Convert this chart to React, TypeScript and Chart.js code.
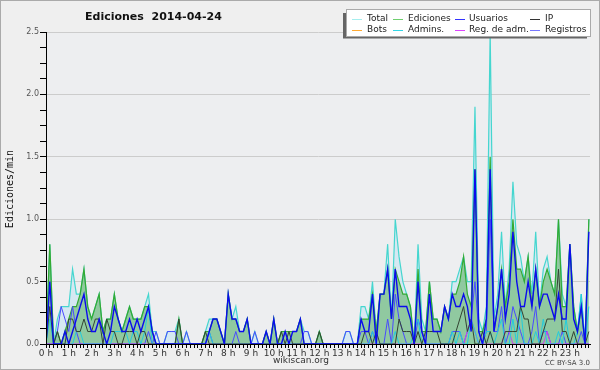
import React, { useEffect, useRef } from 'react';
import { Chart, registerables } from 'chart.js';

Chart.register(...registerables);

// 10-minute slots of the day (0 .. 143)
const slots: number[] = Array.from({ length: 144 }, (_, i) => i);
const hourLabels = ['0 h','1 h','2 h','3 h','4 h','5 h','6 h','7 h','8 h','9 h','10 h','11 h','12 h','13 h','14 h','15 h','16 h','17 h','18 h','19 h','20 h','21 h','22 h','23 h'];
const yTicks = [0,0.125,0.25,0.375,0.5,0.625,0.75,0.875,1,1.125,1.25,1.375,1.5,1.625,1.75,1.875,2,2.125,2.25,2.375,2.5];
const yMajorLabels: Record<string, string> = { '0': '0.0', '0.5': '0.5', '1': '1.0', '1.5': '1.5', '2': '2.0', '2.5': '2.5' };

const total = [
  0, 0.8, 0, 0.2, 0.3, 0.3, 0.3, 0.6, 0.4, 0.4, 0.6, 0.3,
  0.2, 0.3, 0.4, 0.1, 0.2, 0.2, 0.4, 0.2, 0.1, 0.2, 0.3, 0.2,
  0.2, 0.2, 0.3, 0.4, 0.1, 0.1, 0, 0, 0.1, 0.1, 0.1, 0.2,
  0, 0.1, 0, 0, 0, 0, 0.1, 0.2, 0.2, 0.2, 0.1, 0,
  0.4, 0.2, 0.3, 0.1, 0.1, 0.2, 0, 0.1, 0, 0, 0.1, 0,
  0.2, 0, 0.1, 0.1, 0.1, 0.1, 0.1, 0.2, 0.1, 0.1, 0, 0,
  0.1, 0, 0, 0, 0, 0, 0, 0.1, 0.1, 0, 0, 0.3,
  0.3, 0.2, 0.5, 0.1, 0.4, 0.4, 0.8, 0.2, 1.0, 0.7, 0.5, 0.4,
  0.3, 0, 0.8, 0.2, 0.1, 0.5, 0.2, 0.2, 0.1, 0.3, 0.2, 0.5,
  0.5, 0.6, 0.7, 0.5, 0.5, 1.9, 0.2, 0.1, 0.3, 2.5, 0.2, 0.4,
  0.9, 0.3, 0.6, 1.3, 0.8, 0.7, 0.5, 0.7, 0.4, 0.9, 0.3, 0.6,
  0.7, 0.5, 0.4, 1.0, 0.4, 0.3, 0.8, 0.3, 0.1, 0.4, 0, 1.0,
];
const ediciones = [
  0, 0.8, 0, 0.1, 0, 0.1, 0.2, 0.3, 0.3, 0.4, 0.6, 0.3,
  0.2, 0.3, 0.4, 0.1, 0.2, 0.2, 0.4, 0.2, 0.1, 0.2, 0.3, 0.2,
  0.2, 0.2, 0.3, 0.3, 0.1, 0, 0, 0, 0, 0, 0, 0.2,
  0, 0, 0, 0, 0, 0, 0.1, 0.1, 0.2, 0.2, 0.1, 0,
  0.4, 0.2, 0.2, 0.1, 0.1, 0.2, 0, 0, 0, 0, 0.1, 0,
  0.2, 0, 0.1, 0.1, 0.1, 0.1, 0.1, 0.2, 0, 0, 0, 0,
  0.1, 0, 0, 0, 0, 0, 0, 0, 0, 0, 0, 0.2,
  0.2, 0.2, 0.4, 0.1, 0.4, 0.4, 0.6, 0.2, 0.6, 0.5, 0.4, 0.4,
  0.3, 0, 0.6, 0.1, 0.1, 0.5, 0.2, 0.2, 0.1, 0.3, 0.2, 0.4,
  0.4, 0.5, 0.7, 0.4, 0.3, 1.4, 0.1, 0.1, 0.2, 1.5, 0.1, 0.3,
  0.6, 0.3, 0.5, 1.0, 0.6, 0.6, 0.5, 0.7, 0.3, 0.6, 0.3, 0.5,
  0.6, 0.5, 0.4, 1.0, 0.3, 0.3, 0.8, 0.3, 0.1, 0.3, 0, 1.0,
];
const usuarios = [
  0, 0.5, 0, 0, 0, 0.1, 0, 0.1, 0.2, 0.3, 0.4, 0.2,
  0.1, 0.1, 0.2, 0.1, 0, 0.1, 0.3, 0.2, 0.1, 0.1, 0.2, 0.1,
  0.2, 0.1, 0.2, 0.3, 0.1, 0, 0, 0, 0, 0, 0, 0,
  0, 0, 0, 0, 0, 0, 0, 0.1, 0.2, 0.2, 0.1, 0,
  0.4, 0.2, 0.2, 0.1, 0.1, 0.2, 0, 0, 0, 0, 0.1, 0,
  0.2, 0, 0, 0.1, 0, 0.1, 0.1, 0.2, 0, 0, 0, 0,
  0, 0, 0, 0, 0, 0, 0, 0, 0, 0, 0, 0.2,
  0.1, 0.1, 0.4, 0, 0.4, 0.4, 0.6, 0.2, 0.6, 0.3, 0.3, 0.3,
  0.2, 0, 0.5, 0.1, 0, 0.4, 0.1, 0.1, 0.1, 0.3, 0.2, 0.4,
  0.3, 0.3, 0.4, 0.3, 0.1, 1.4, 0.1, 0, 0.2, 1.4, 0.1, 0.3,
  0.6, 0.2, 0.4, 0.9, 0.5, 0.3, 0.3, 0.5, 0.3, 0.6, 0.3, 0.4,
  0.4, 0.3, 0.2, 0.4, 0.2, 0.2, 0.8, 0.2, 0.1, 0.3, 0, 0.9,
];
const ip = [
  0, 0.3, 0, 0.1, 0, 0, 0.2, 0.2, 0.1, 0.1, 0.2, 0.1,
  0.1, 0.2, 0.2, 0, 0.2, 0.1, 0.1, 0, 0, 0.1, 0.1, 0.1,
  0, 0.1, 0.1, 0, 0, 0, 0, 0, 0, 0, 0, 0.2,
  0, 0, 0, 0, 0, 0, 0.1, 0, 0, 0, 0, 0,
  0, 0, 0, 0, 0, 0, 0, 0, 0, 0, 0, 0,
  0, 0, 0.1, 0, 0.1, 0, 0, 0, 0, 0, 0, 0,
  0.1, 0, 0, 0, 0, 0, 0, 0, 0, 0, 0, 0,
  0.1, 0.1, 0, 0.1, 0, 0, 0, 0, 0, 0.2, 0.1, 0.1,
  0.1, 0, 0.1, 0, 0.1, 0.1, 0.1, 0.1, 0, 0, 0, 0,
  0.1, 0.2, 0.3, 0.1, 0.2, 0, 0, 0.1, 0, 0.1, 0, 0,
  0, 0.1, 0.1, 0.1, 0.1, 0.3, 0.2, 0.2, 0, 0, 0, 0.1,
  0.2, 0.2, 0.2, 0.6, 0.1, 0.1, 0, 0.1, 0, 0, 0, 0.1,
];
const bots = [
  0, 0, 0, 0, 0, 0, 0, 0, 0, 0, 0, 0,
  0, 0, 0, 0, 0, 0, 0, 0, 0, 0, 0, 0,
  0, 0, 0, 0, 0, 0, 0, 0, 0, 0, 0, 0,
  0, 0, 0, 0, 0, 0, 0, 0, 0, 0, 0, 0,
  0, 0, 0, 0, 0, 0, 0, 0, 0, 0, 0, 0,
  0, 0, 0, 0, 0, 0, 0, 0, 0, 0, 0, 0,
  0, 0, 0, 0, 0, 0, 0, 0, 0, 0, 0, 0,
  0, 0, 0, 0, 0, 0, 0, 0, 0, 0, 0, 0,
  0, 0, 0, 0, 0, 0, 0, 0, 0, 0, 0, 0,
  0, 0, 0, 0, 0, 0, 0, 0, 0, 0, 0, 0,
  0, 0, 0, 0, 0, 0, 0, 0, 0, 0, 0, 0,
  0, 0, 0, 0, 0, 0, 0, 0, 0, 0, 0, 0,
];
const admins = [
  0, 0.2, 0, 0, 0, 0, 0, 0, 0.1, 0.1, 0, 0,
  0, 0, 0, 0, 0, 0, 0.1, 0.1, 0.1, 0.1, 0, 0.1,
  0.1, 0, 0.1, 0.3, 0, 0, 0, 0, 0, 0, 0, 0,
  0, 0, 0, 0, 0, 0, 0, 0.1, 0, 0, 0, 0,
  0, 0, 0, 0, 0, 0, 0, 0, 0, 0, 0, 0,
  0, 0, 0, 0, 0, 0, 0, 0, 0, 0, 0, 0,
  0, 0, 0, 0, 0, 0, 0, 0, 0, 0, 0, 0,
  0, 0, 0.1, 0, 0, 0, 0, 0, 0.1, 0, 0, 0,
  0, 0.1, 0.2, 0, 0, 0, 0, 0, 0, 0, 0, 0.1,
  0, 0.1, 0, 0, 0.2, 0.1, 0, 0, 0.1, 0.1, 0, 0.1,
  0.2, 0, 0, 0.2, 0, 0.3, 0, 0, 0, 0.1, 0, 0.2,
  0, 0, 0, 0.1, 0, 0.2, 0, 0, 0.1, 0.4, 0, 0.3,
];
const regAdm = [
  0, 0, 0, 0, 0, 0, 0, 0, 0, 0, 0, 0,
  0, 0, 0, 0, 0, 0, 0, 0, 0, 0, 0, 0,
  0, 0, 0, 0, 0, 0, 0, 0, 0, 0, 0, 0,
  0, 0, 0, 0, 0, 0, 0, 0, 0, 0, 0, 0,
  0, 0, 0, 0, 0, 0, 0, 0, 0, 0, 0, 0,
  0, 0, 0, 0, 0, 0, 0, 0, 0, 0, 0, 0,
  0, 0, 0, 0, 0, 0, 0, 0, 0, 0, 0, 0,
  0, 0, 0, 0, 0, 0, 0, 0, 0, 0, 0, 0,
  0, 0, 0, 0, 0, 0, 0, 0, 0, 0, 0, 0,
  0, 0, 0, 0.1, 0.2, 0.1, 0, 0, 0, 0, 0, 0,
  0, 0.1, 0.1, 0, 0, 0, 0, 0, 0, 0, 0, 0,
  0.1, 0, 0, 0, 0, 0, 0, 0, 0, 0, 0, 0,
];
const registros = [
  0, 0, 0, 0.1, 0.3, 0.2, 0.1, 0.3, 0.1, 0, 0, 0,
  0, 0, 0, 0, 0, 0, 0, 0, 0, 0, 0, 0,
  0, 0, 0, 0.1, 0, 0.1, 0, 0, 0.1, 0.1, 0.1, 0,
  0, 0.1, 0, 0, 0, 0, 0, 0.1, 0, 0, 0, 0,
  0, 0, 0.1, 0, 0, 0, 0, 0.1, 0, 0, 0, 0,
  0, 0, 0, 0, 0, 0, 0, 0, 0.1, 0.1, 0, 0,
  0, 0, 0, 0, 0, 0, 0, 0.1, 0.1, 0, 0, 0.1,
  0.1, 0, 0.1, 0, 0, 0, 0.2, 0, 0.4, 0.2, 0.1, 0,
  0, 0, 0.2, 0.1, 0, 0, 0, 0, 0, 0, 0, 0.1,
  0.1, 0.1, 0, 0.1, 0.2, 0.5, 0.1, 0, 0.1, 1.0, 0.1, 0.1,
  0.3, 0, 0.1, 0.3, 0.2, 0.1, 0, 0, 0.1, 0.3, 0, 0.1,
  0.1, 0, 0, 0, 0.1, 0, 0, 0, 0, 0.1, 0, 0,
];

const legendItems = [
  { label: 'Total', color: '#a6eeee', col: 0, row: 0 },
  { label: 'Ediciones', color: '#6fcf6f', col: 1, row: 0 },
  { label: 'Usuarios', color: '#3333ff', col: 2, row: 0 },
  { label: 'IP', color: '#333333', col: 3, row: 0 },
  { label: 'Bots', color: '#ffaa33', col: 0, row: 1 },
  { label: 'Admins.', color: '#33d6e6', col: 1, row: 1 },
  { label: 'Reg. de adm.', color: '#dd44ff', col: 2, row: 1 },
  { label: 'Registros', color: '#7777ff', col: 3, row: 1 },
];

const isMajor = (v: number) => Math.abs(v * 2 - Math.round(v * 2)) < 1e-6;

const decorPlugin = {
  id: 'decor',
  beforeDraw(chart: any) {
    const { ctx, chartArea: a } = chart;
    ctx.save();
    ctx.fillStyle = '#efefef';
    ctx.fillRect(0, 0, 600, 370);
    ctx.fillStyle = '#edeef0';
    ctx.fillRect(a.left, a.top, a.right - a.left, a.bottom - a.top);
    ctx.strokeStyle = '#aaaaaa';
    ctx.lineWidth = 1;
    ctx.strokeRect(0.5, 0.5, 599, 369);
    ctx.restore();
  },
  afterDatasetsDraw(chart: any) {
    const { ctx, chartArea: a } = chart;
    ctx.save();
    ctx.strokeStyle = '#000';
    ctx.lineWidth = 1;
    ctx.beginPath();
    ctx.moveTo(a.left + 0.5, a.top);
    ctx.lineTo(a.left + 0.5, a.bottom + 0.5);
    ctx.lineTo(a.right, a.bottom + 0.5);
    ctx.stroke();
    ctx.restore();
  },
  afterDraw(chart: any) {
    const { ctx } = chart;
    ctx.save();
    // title
    ctx.fillStyle = '#111';
    ctx.textBaseline = 'middle';
    ctx.textAlign = 'left';
    ctx.font = 'bold 11px "DejaVu Sans"';
    ctx.fillText('Ediciones  2014-04-24', 85, 17);
    // y title
    ctx.save();
    ctx.translate(10, 189);
    ctx.rotate(-Math.PI / 2);
    ctx.textAlign = 'center';
    ctx.font = '10px "DejaVu Sans Mono"';
    ctx.fillText('Ediciones/min', 0, 0);
    ctx.restore();
    // footer
    ctx.fillStyle = '#333';
    ctx.textAlign = 'center';
    ctx.font = '9px "DejaVu Sans"';
    ctx.fillText('wikiscan.org', 301, 361);
    ctx.textAlign = 'right';
    ctx.font = '7px "DejaVu Sans"';
    ctx.fillStyle = '#444';
    ctx.fillText('CC BY-SA 3.0', 590, 363);
    // legend
    ctx.fillStyle = '#666';
    ctx.fillRect(343, 13, 244, 25.5);
    ctx.fillStyle = '#ffffff';
    ctx.fillRect(346.5, 9.5, 244, 27);
    ctx.strokeStyle = '#aaaaaa';
    ctx.lineWidth = 1;
    ctx.strokeRect(346.5, 9.5, 244, 27);
    const colX = [352, 393, 455, 530];
    const textX = [367, 408, 469, 545];
    const rowY = [19, 29.5];
    ctx.textAlign = 'left';
    ctx.font = '9px "DejaVu Sans"';
    legendItems.forEach((it) => {
      ctx.strokeStyle = it.color;
      ctx.beginPath();
      ctx.moveTo(colX[it.col], Math.round(rowY[it.row]) + 0.5);
      ctx.lineTo(colX[it.col] + 10, Math.round(rowY[it.row]) + 0.5);
      ctx.stroke();
      ctx.fillStyle = '#222';
      ctx.fillText(it.label, textX[it.col], rowY[it.row]);
    });
    ctx.restore();
  },
};

export default function App() {
  const ref = useRef<HTMLCanvasElement>(null);
  useEffect(() => {
    document.body.style.margin = '0';
    const canvas = ref.current!;
    const line = (label: string, data: number[], color: string, width: number, order: number, extra: any = {}) => ({
      label, data, borderColor: color, borderWidth: width, pointRadius: 0, tension: 0, fill: false, order, ...extra,
    });
    const chart = new Chart(canvas, {
      type: 'line',
      data: {
        labels: slots,
        datasets: [
          line('Total', total, '#45d6cf', 1.2, 8, { fill: 'origin', backgroundColor: 'rgba(208,230,242,0.85)' }),
          line('Ediciones', ediciones, '#33aa33', 1.2, 7, { fill: 'origin', backgroundColor: 'rgba(60,165,60,0.45)' }),
          line('Bots', bots, 'rgba(255,170,51,0)', 0, 6),
          line('Registros', registros, '#4a4aff', 1, 5),
          line('Reg. de adm.', regAdm, '#cc44ee', 1, 4),
          line('Admins.', admins, '#22ccdd', 1, 3),
          line('IP', ip, '#334433', 1, 2),
          line('Usuarios', usuarios, '#0b0bee', 1.4, 1),
        ],
      },
      options: {
        animation: false,
        responsive: false,
        devicePixelRatio: 1,
        layout: { padding: { top: 32, right: 10, left: 0, bottom: 0 } },
        plugins: { legend: { display: false }, tooltip: { enabled: false }, title: { display: false } },
        scales: {
          x: {
            type: 'linear',
            min: 0,
            max: 143.3,
            afterBuildTicks: (s: any) => { s.ticks = slots.map((v) => ({ value: v })); },
            afterFit: (s: any) => { s.height = 26; },
            ticks: {
              autoSkip: false,
              maxRotation: 0,
              minRotation: 0,
              padding: 0,
              color: '#333',
              font: { family: 'DejaVu Sans', size: 9 },
              callback: (v: any) => (v % 6 === 0 ? hourLabels[v / 6] : ''),
            },
            grid: { drawOnChartArea: false, drawTicks: true, tickLength: 4, tickColor: '#000', color: '#000' },
            border: { display: true, color: '#000' },
          },
          y: {
            min: 0,
            max: 2.5,
            afterBuildTicks: (s: any) => { s.ticks = yTicks.map((v) => ({ value: v })); },
            afterFit: (s: any) => { s.width = 46; },
            ticks: {
              autoSkip: false,
              padding: 1,
              color: '#555',
              font: { family: 'DejaVu Sans', size: 8 },
              callback: (v: any) => (isMajor(v) ? yMajorLabels[String(v)] : ''),
            },
            grid: {
              drawTicks: true,
              tickLength: 6,
              tickColor: '#000',
              color: (c: any) => (c.tick && isMajor(c.tick.value) && c.tick.value > 0 ? '#cccccc' : 'rgba(0,0,0,0)'),
            },
            border: { display: true, color: '#000' },
          },
        },
      },
      plugins: [decorPlugin],
    } as any);
    return () => chart.destroy();
  }, []);
  return (
    <div style={{ position: 'absolute', left: 0, top: 0, width: 600, height: 370 }}>
      <canvas ref={ref} width={600} height={370} style={{ display: 'block', width: 600, height: 370 }} />
    </div>
  );
}
